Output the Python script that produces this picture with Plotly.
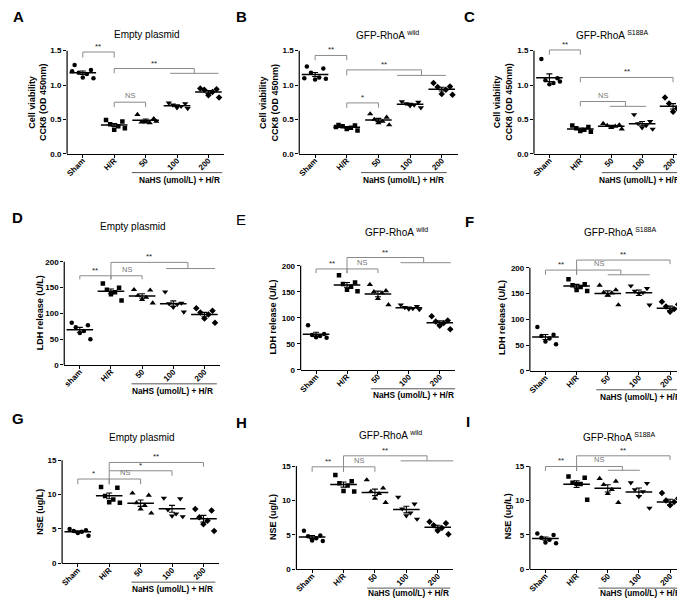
import numpy as np
import plotly.graph_objects as go

W, H = 685, 598
FONT = "Liberation Sans, Arial, sans-serif"

groups = ["Sham", "H/R", "50", "100", "200"]
groups_d = ["sham", "H/R", "50", "100", "200"]

# Cell viability, CCK8 (OD 450nm)
cck8_empty = [
    [1.29, 1.22, 1.18, 1.16, 1.11, 1.10, 1.20],
    [0.49, 0.47, 0.43, 0.40, 0.35, 0.37],
    [0.57, 0.51, 0.46, 0.45, 0.46, 0.47],
    [0.74, 0.73, 0.71, 0.69, 0.67, 0.66],
    [0.95, 0.94, 0.93, 0.90, 0.85, 0.82],
]
cck8_wild = [
    [1.27, 1.24, 1.18, 1.11, 1.08, 1.09, 1.10],
    [0.42, 0.41, 0.40, 0.38, 0.36, 0.34, 0.39],
    [0.58, 0.53, 0.50, 0.47, 0.45, 0.42],
    [0.76, 0.75, 0.73, 0.71, 0.70, 0.67],
    [1.03, 0.98, 0.97, 0.93, 0.87, 0.86],
]
cck8_s188a = [
    [1.38, 1.10, 1.07, 1.03, 1.01, 1.05],
    [0.41, 0.39, 0.37, 0.35, 0.33, 0.32],
    [0.44, 0.42, 0.41, 0.40, 0.38, 0.36],
    [0.57, 0.47, 0.44, 0.41, 0.38, 0.36],
    [0.82, 0.76, 0.73, 0.66, 0.61, 0.56],
]

# LDH release (U/L)
ldh_empty = [
    [82, 77, 73, 66, 62, 50],
    [158, 150, 146, 141, 137, 125],
    [146, 145, 135, 131, 127, 120],
    [142, 120, 119, 118, 112, 103],
    [110, 105, 102, 98, 90, 82],
]
ldh_wild = [
    [86, 69, 67, 65, 63, 62],
    [182, 168, 165, 160, 154, 151],
    [164, 152, 150, 148, 137, 125],
    [125, 122, 120, 118, 117, 116],
    [103, 95, 93, 90, 85, 78],
]
ldh_s188a = [
    [85, 70, 68, 63, 57, 52],
    [178, 168, 166, 163, 157, 155],
    [166, 157, 152, 151, 147, 128],
    [165, 160, 155, 152, 150, 128],
    [134, 129, 125, 120, 115, 106],
]

# NSE (ug/L)
nse_empty = [
    [5.0, 4.8, 4.7, 4.6, 4.4, 4.0],
    [11.1, 11.0, 9.8, 9.3, 8.9, 8.8],
    [10.2, 9.9, 8.8, 8.4, 7.9, 7.3],
    [9.5, 9.4, 7.8, 7.2, 6.9, 6.8],
    [7.9, 7.7, 6.7, 6.2, 5.7, 4.7],
]
nse_wild = [
    [5.6, 4.9, 4.8, 4.5, 4.2, 4.1],
    [13.7, 12.8, 12.5, 12.2, 11.4, 11.3],
    [13.0, 11.8, 11.3, 11.0, 10.3, 9.7],
    [10.5, 9.5, 8.8, 8.2, 7.8, 7.3],
    [6.9, 6.7, 6.4, 6.0, 5.6, 5.1],
]
nse_s188a = [
    [5.2, 5.0, 4.6, 4.3, 3.9, 3.8],
    [13.5, 13.3, 12.6, 12.4, 12.4, 10.1],
    [13.2, 12.8, 12.3, 11.6, 11.0, 9.7],
    [12.6, 12.5, 11.6, 11.3, 10.6, 8.9],
    [11.1, 10.3, 10.0, 9.8, 9.3, 8.2],
]

cck8_ticks = [0, 0.5, 1.0, 1.5]
cck8_ticktext = ["0.0", "0.5", "1.0", "1.5"]
ldh_ticks = [0, 50, 100, 150, 200]
ldh_ticktext = ["0", "50", "100", "150", "200"]
nse_ticks = [0, 5, 10, 15]
nse_ticktext = ["0", "5", "10", "15"]

# significance brackets: (left, right, top, left foot, right foot, label, group line)
br_a = [(0, 1, 1.48, 1.40, 1.40, "**", None),
        (1, 3.55, 1.24, 1.17, 1.17, "**", (2.78, 4.32)),
        (1, 2, 0.75, 0.68, 0.68, "NS", None)]
br_b = [(0, 1, 1.43, 1.36, 1.36, "**", None),
        (1, 3.36, 1.22, 1.14, 1.14, "**", (2.59, 4.13)),
        (1, 2, 0.74, 0.67, 0.67, "*", None)]
br_c = [(0, 1, 1.51, 1.44, 1.44, "**", None),
        (1, 4, 1.11, 1.04, 1.04, "**", None),
        (1, 2.46, 0.76, 0.69, 0.69, "NS", (1.95, 3.13))]
br_d = [(0, 1, 173, 166, 166, "**", None),
        (1, 2, 173, 166, 166, "NS", None),
        (1, 3.47, 199, 173, 187, "**", (2.77, 4.34))]
br_e = [(0, 1, 194, 186, 186, "**", None),
        (1, 2, 194, 186, 186, "NS", None),
        (1, 3.48, 216, 194, 206, "**", (2.73, 4.36))]
br_f = [(0, 1, 195.6, 186.5, 186.5, "**", None),
        (1, 2.42, 195.6, 186.5, 186.5, "NS", (2.0, 3.35)),
        (1, 4, 215, 195.6, 207, "**", None)]
br_g = [(0, 1, 12.26, 11.5, 11.5, "*", None),
        (1, 2, 12.26, 11.5, 11.5, "NS", None),
        (1, 3, 13.46, 12.26, 12.74, "*", None),
        (1, 4, 14.67, 13.46, 14.04, "**", None)]
br_h = [(0, 1, 14.9, 14.18, 14.18, "**", None),
        (1, 2, 14.9, 14.18, 14.18, "NS", None),
        (1, 3.66, 16.5, 14.9, 15.77, "**", (2.82, 4.5))]
br_i = [(0, 1, 14.95, 14.3, 14.3, "**", None),
        (1, 2.47, 14.95, 14.3, 14.4, "NS", (2.0, 3.03)),
        (1, 4, 16.5, 14.95, 15.9, "**", None)]

cck8_lab = "Cell viability<br>CCK8 (OD 450nm)"
ldh_lab = "LDH release (U/L)"
nse_lab = "NSE (ug/L)"
t_empty = "Empty plasmid"
t_wild = "GFP-RhoA <sup>wild</sup>"
t_s188a = "GFP-RhoA <sup>S188A</sup>"

# panel placement in pixels: box = (left, right, zero line y, px per unit, y range max)
# nahs = (line start, line end, text centre, text offset below axis)
panels = [
    dict(k="A", t=t_empty, v=cck8_empty, c=groups, br=br_a, yl=cck8_lab, yt=cck8_ticks, ytt=cck8_ticktext,
         box=(57.25, 214.75, 147, 69.33, 1.6), txy=(137, 27), lxy=(9, 9), yxy=(28, 95), nahs=(1.56, 4.44, 3.08, 26)),
    dict(k="B", t=t_wild, v=cck8_wild, c=groups, br=br_b, yl=cck8_lab, yt=cck8_ticks, ytt=cck8_ticktext,
         box=(290.1, 448.9, 147, 69.33, 1.6), txy=(379, 27), lxy=(232, 9), yxy=(260, 95), nahs=(1.45, 4.16, 2.8, 26)),
    dict(k="C", t=t_s188a, v=cck8_s188a, c=groups, br=br_c, yl=cck8_lab, yt=cck8_ticks, ytt=cck8_ticktext,
         box=(525.5, 680.5, 147, 69.33, 1.6), txy=(604, 27), lxy=(461, 9), yxy=(495, 95), nahs=(1.7, 4.55, 2.93, 26)),
    dict(k="D", t=t_empty, v=ldh_empty, c=groups_d, br=br_d, yl=ldh_lab, yt=ldh_ticks, ytt=ldh_ticktext,
         box=(54.4, 210.6, 360, 0.52, 225), txy=(123, 220), lxy=(8, 211), yxy=(31, 307), nahs=(1.66, 4.4, 2.98, 26)),
    dict(k="E", t=t_wild, v=ldh_wild, c=groups, br=br_e, yl=ldh_lab, yt=ldh_ticks, ytt=ldh_ticktext,
         box=(291.5, 446.5, 365, 0.525, 225), txy=(388, 226), lxy=(232, 213), yxy=(264, 312), nahs=(1.77, 4.5, 3.16, 25)),
    dict(k="F", t=t_s188a, v=ldh_s188a, c=groups, br=br_f, yl=ldh_lab, yt=ldh_ticks, ytt=ldh_ticktext,
         box=(521.4, 677.6, 366, 0.52, 225), txy=(612, 226), lxy=(461, 215), yxy=(494, 312), nahs=(1.63, 4.6, 3.05, 26)),
    dict(k="G", t=t_empty, v=nse_empty, c=groups, br=br_g, yl=nse_lab, yt=nse_ticks, ytt=nse_ticktext,
         box=(52.25, 209.75, 560, 6.933, 17.2), txy=(132, 433), lxy=(8, 414), yxy=(30, 508), nahs=(1.71, 4.38, 3.02, 26)),
    dict(k="H", t=t_wild, v=nse_wild, c=groups, br=br_h, yl=nse_lab, yt=nse_ticks, ytt=nse_ticktext,
         box=(287.25, 444.75, 566, 6.933, 17.2), txy=(382, 431), lxy=(232, 418), yxy=(263, 513), nahs=(1.75, 4.4, 3.08, 24)),
    dict(k="I", t=t_s188a, v=nse_s188a, c=groups, br=br_i, yl=nse_lab, yt=nse_ticks, ytt=nse_ticktext,
         box=(521.4, 677.6, 566, 6.933, 17.2), txy=(611, 433), lxy=(459, 417), yxy=(499, 513), nahs=(1.7, 4.6, 3.05, 24)),
]

symbols = ["circle", "square", "triangle-up", "triangle-down", "diamond"]
sizes = [4.5, 4.5, 5.5, 5.5, 5]
offs = [-0.26, 0.26, -0.13, 0.13, 0.0, 0.34, -0.34]


def px(x):
    return x / W


def py(y):
    return 1 - y / H


fig = go.Figure()
shapes, annos, layout = [], [], {}

for n, p in enumerate(panels, start=1):
    xa = "x" if n == 1 else f"x{n}"
    ya = "y" if n == 1 else f"y{n}"
    xl, xr, yb, scale, ymax = p["box"]
    ytop = yb - ymax * scale

    for j, vals in enumerate(p["v"]):
        xs = [j + offs[i] for i in range(len(vals))]
        fig.add_trace(go.Scatter(
            x=xs, y=vals, mode="markers", xaxis=xa, yaxis=ya, showlegend=False,
            marker=dict(symbol=symbols[j], size=sizes[j], color="black"),
        ))
        m = np.mean(vals)
        sem = np.std(vals, ddof=1) / np.sqrt(len(vals))
        fig.add_trace(go.Scatter(
            x=[j], y=[m], mode="markers", xaxis=xa, yaxis=ya, showlegend=False,
            marker=dict(symbol="line-ew", size=19, line=dict(width=1.5, color="black")),
            error_y=dict(type="data", array=[sem], width=3, thickness=1.1, color="black"),
        ))

    layout["xaxis" if n == 1 else f"xaxis{n}"] = dict(
        domain=[px(xl), px(xr)], range=[-0.5, 4.5], anchor=ya,
        tickvals=list(range(5)), ticktext=[f"<b>{c}</b>" for c in p["c"]],
        tickangle=-45, ticks="outside", ticklen=3, tickwidth=1, tickcolor="black",
        ticklabelstandoff=-5,
        showline=True, linecolor="black", linewidth=1.2, showgrid=False, zeroline=False,
        tickfont=dict(size=8, color="black", family=FONT),
    )
    layout["yaxis" if n == 1 else f"yaxis{n}"] = dict(
        domain=[py(yb), py(ytop)], range=[0, ymax], anchor=xa,
        tickvals=p["yt"], ticktext=[f"<b>{t}</b>" for t in p["ytt"]],
        ticks="outside", ticklen=3, tickwidth=1, tickcolor="black",
        showline=False, showgrid=False, zeroline=False,
        tickfont=dict(size=8, color="black", family=FONT),
    )
    # y axis line up to the last tick
    shapes.append(dict(type="line", xref=f"{xa} domain", yref=f"{ya} domain",
                       x0=0, x1=0, y0=0, y1=p["yt"][-1] / ymax,
                       line=dict(color="black", width=1.2)))

    # significance brackets
    for (a, b, top, fa, fb, lab, grp) in p["br"]:
        segs = [(a, fa, a, top), (a, top, b, top), (b, top, b, fb)]
        if grp:
            segs.append((grp[0], fb, grp[1], fb))
        for (x0, y0, x1, y1) in segs:
            shapes.append(dict(type="line", xref=xa, yref=ya, x0=x0, y0=y0, x1=x1, y1=y1,
                               line=dict(color="#8a8a8a", width=1)))
        annos.append(dict(xref=xa, yref=ya, x=(a + b) / 2, y=top, text=lab, showarrow=False,
                          xanchor="center", yanchor="bottom", yshift=-1 if lab != "NS" else 0,
                          font=dict(size=8 if lab != "NS" else 7.5, family=FONT,
                                    color="#222" if lab != "NS" else "#777")))

    # NaHS group label under the x axis
    n0, n1, nc, toff = p["nahs"]
    shapes.append(dict(type="line", xref=f"{xa} domain", yref="paper",
                       x0=(n0 + 0.5) / 5, x1=(n1 + 0.5) / 5, y0=py(yb + 19), y1=py(yb + 19),
                       line=dict(color="#555", width=1)))
    annos.append(dict(xref=xa, yref="paper", x=nc, y=py(yb + toff), text="<b>NaHS (umol/L) + H/R</b>",
                      xanchor="center", yanchor="middle", borderpad=0,
                      showarrow=False, font=dict(size=8.3, family=FONT, color="black")))

    # title, panel letter, y-axis label
    annos.append(dict(xref="paper", yref="paper", x=px(p["txy"][0]), y=py(p["txy"][1]), text=p["t"],
                      xanchor="center", yanchor="middle",
                      showarrow=False, font=dict(size=10, family=FONT, color="black")))
    letter = p["k"] if p["k"] == "E" else f"<b>{p['k']}</b>"
    annos.append(dict(xref="paper", yref="paper", x=px(p["lxy"][0]), y=py(p["lxy"][1]), text=letter,
                      xanchor="center", yanchor="middle",
                      showarrow=False, font=dict(size=15, family=FONT, color="black")))
    annos.append(dict(xref="paper", yref="paper", x=px(p["yxy"][0]), y=py(p["yxy"][1]),
                      text=f"<b>{p['yl']}</b>", textangle=-90, showarrow=False,
                      xanchor="center", yanchor="middle",
                      font=dict(size=9, family=FONT, color="black")))

fig.update_layout(
    width=W, height=H, autosize=False,
    margin=dict(l=0, r=0, t=0, b=0),
    paper_bgcolor="white", plot_bgcolor="white",
    font=dict(family=FONT, color="black"),
    shapes=shapes, annotations=annos,
    **layout,
)

fig.write_html("out.html")
